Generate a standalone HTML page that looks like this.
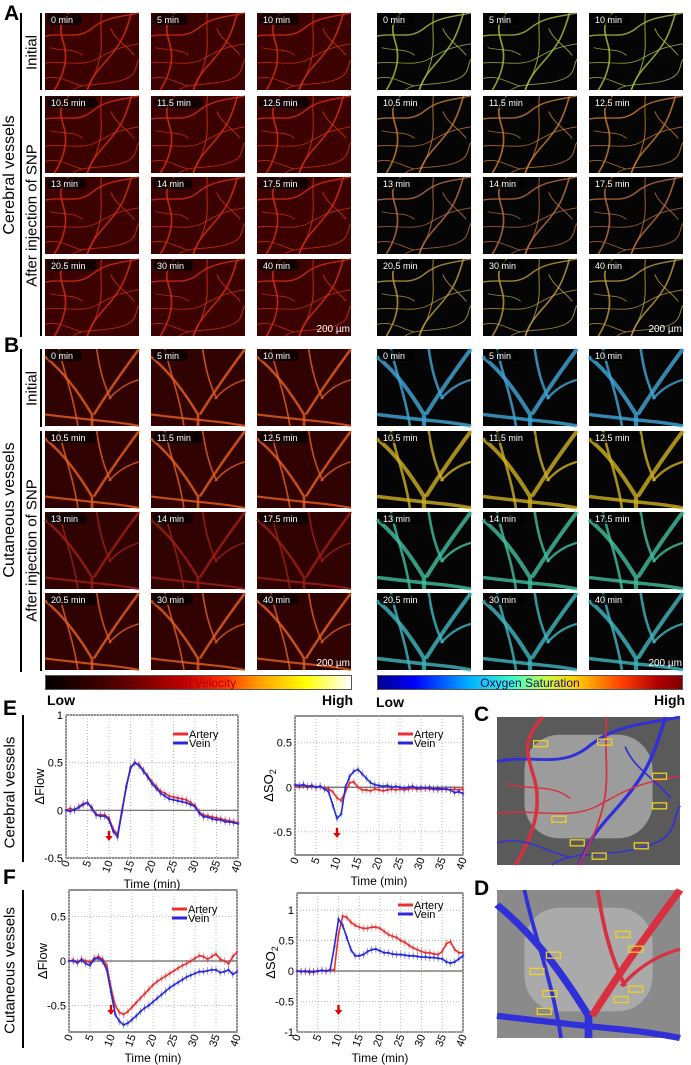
<!DOCTYPE html>
<html><head><meta charset="utf-8">
<style>
body{margin:0;background:#fff;}
#root{position:relative;width:691px;height:1065px;overflow:hidden;font-family:"Liberation Sans",sans-serif;background:#fff;}
.abs{position:absolute;}
.lbl{position:absolute;font-weight:bold;font-size:21px;color:#000;}
.vt{position:absolute;transform:rotate(-90deg);transform-origin:center center;white-space:nowrap;text-align:center;color:#000;}
.vline{position:absolute;width:1.5px;background:#000;}
</style></head>
<body>
<div id="root">
<div class="lbl" style="left:4px;top:2px">A</div>
<div class="lbl" style="left:4px;top:334px">B</div>
<div class="lbl" style="left:3px;top:697px">E</div>
<div class="lbl" style="left:3px;top:866px">F</div>
<div class="lbl" style="left:474px;top:703px">C</div>
<div class="lbl" style="left:474px;top:877px">D</div>

<div class="vline" style="left:20px;top:13px;height:324px"></div>
<div class="vline" style="left:40px;top:13px;height:77px"></div>
<div class="vline" style="left:40px;top:96px;height:240px"></div>
<div class="vt" style="left:-70px;top:166px;width:160px;font-size:16px">Cerebral vessels</div>
<div class="vt" style="left:-8px;top:44px;width:80px;font-size:15px">Initial</div>
<div class="vt" style="left:-52px;top:207px;width:168px;font-size:15px">After injection of SNP</div>

<div class="vline" style="left:20px;top:349px;height:323px"></div>
<div class="vline" style="left:40px;top:349px;height:78px"></div>
<div class="vline" style="left:40px;top:431px;height:240px"></div>
<div class="vt" style="left:-75px;top:501px;width:170px;font-size:16px">Cutaneous vessels</div>
<div class="vt" style="left:-8px;top:380px;width:80px;font-size:15px">Initial</div>
<div class="vt" style="left:-52px;top:542px;width:168px;font-size:15px">After injection of SNP</div>

<div class="abs" style="left:45px;top:675px;width:307px;height:15px;border:1px solid #555;box-sizing:border-box;background:linear-gradient(90deg,#000 0%,#5a0000 25%,#c00000 45%,#ff3000 58%,#ffa000 70%,#ffff00 85%,#ffffff 100%);font-size:12px;color:#b00000;text-align:center;line-height:14px">Blood Velocity</div>
<div class="abs" style="left:377px;top:675px;width:306px;height:15px;border:1px solid #555;box-sizing:border-box;background:linear-gradient(90deg,#00008f 0%,#0000ff 12%,#00b0ff 30%,#40ffc0 45%,#c0ff40 55%,#ffd000 65%,#ff4000 80%,#b00000 92%,#800000 100%);font-size:12px;color:#200080;text-align:center;line-height:14px">Oxygen Saturation</div>
<div class="abs" style="left:47px;top:692px;font-weight:bold;font-size:14px">Low</div>
<div class="abs" style="left:322px;top:692px;font-weight:bold;font-size:14px">High</div>
<div class="abs" style="left:376px;top:694px;font-weight:bold;font-size:14px">Low</div>
<div class="abs" style="left:654px;top:692px;font-weight:bold;font-size:14px">High</div>

<div class="vline" style="left:22px;top:715px;height:147px"></div>
<div class="vt" style="left:-70px;top:784px;width:160px;font-size:15px">Cerebral vessels</div>
<div class="vline" style="left:22px;top:890px;height:158px"></div>
<div class="vt" style="left:-75px;top:962px;width:170px;font-size:15px">Cutaneous vessels</div>

<svg id="maps" class="abs" style="left:0;top:0" width="691" height="1065"></svg>
<svg id="charts" class="abs" style="left:0;top:0" width="691" height="1065"></svg>
</div>
<script>
// ---------- chart data (minutes 0..40) ----------
const minutes = [0,1,2,3,4,5,6,7,8,9,10,11,12,13,14,15,16,17,18,19,20,21,22,23,24,25,26,27,28,29,30,31,32,33,34,35,36,37,38,39,40];
const xTicks = [0,5,10,15,20,25,30,35,40];
const eFlowArtery = [0,0.02,0,0.04,0.07,0.08,0.03,-0.04,-0.05,-0.05,-0.08,-0.2,-0.25,0,0.25,0.45,0.5,0.48,0.42,0.36,0.3,0.25,0.2,0.18,0.15,0.14,0.13,0.12,0.11,0.08,0.05,-0.02,-0.05,-0.06,-0.07,-0.08,-0.09,-0.1,-0.11,-0.12,-0.13];
const eFlowVein   = [0,-0.01,0.01,0.03,0.06,0.08,0.02,-0.05,-0.06,-0.06,-0.1,-0.22,-0.28,-0.02,0.24,0.44,0.5,0.47,0.41,0.35,0.28,0.23,0.18,0.15,0.12,0.11,0.1,0.09,0.08,0.06,0.04,-0.03,-0.07,-0.07,-0.09,-0.1,-0.1,-0.12,-0.12,-0.13,-0.14];
const eFlowTicks = [-0.5,0,0.5,1];
const eSo2Artery = [0.02,0.01,0.02,0,0.01,0,0.01,-0.01,-0.02,-0.05,-0.12,-0.15,-0.05,0.05,0.06,0,-0.03,-0.03,-0.04,-0.02,-0.03,-0.04,-0.03,-0.02,-0.03,-0.02,-0.03,-0.02,-0.01,-0.02,-0.02,-0.01,-0.02,-0.02,-0.03,-0.02,-0.02,-0.03,-0.02,-0.03,-0.02];
const eSo2Vein   = [0.03,0.02,0.03,0.01,0.02,0,0.01,-0.02,-0.05,-0.2,-0.35,-0.3,0,0.12,0.18,0.2,0.15,0.1,0.05,0.03,0.02,0.01,0.02,0,0.01,0,-0.01,0,0.01,-0.01,0,-0.01,0,-0.02,-0.01,-0.02,-0.02,-0.03,-0.06,-0.05,-0.07];
const eSo2Ticks = [-0.5,0,0.5];
const fFlowArtery = [0,0.01,-0.01,0.02,0,-0.02,0.03,0.05,0.02,-0.05,-0.3,-0.5,-0.58,-0.6,-0.57,-0.52,-0.47,-0.42,-0.37,-0.32,-0.27,-0.23,-0.2,-0.17,-0.14,-0.11,-0.08,-0.05,-0.03,0,0.03,0.06,0.05,0.02,0.05,0.08,0.02,0,-0.03,0.05,0.1];
const fFlowVein   = [0,0,-0.02,0.01,-0.03,-0.05,0.02,0.03,0,-0.1,-0.35,-0.6,-0.68,-0.72,-0.7,-0.66,-0.62,-0.57,-0.53,-0.5,-0.46,-0.42,-0.38,-0.34,-0.3,-0.27,-0.24,-0.21,-0.18,-0.16,-0.14,-0.12,-0.12,-0.11,-0.1,-0.1,-0.13,-0.12,-0.1,-0.15,-0.12];
const fFlowTicks = [-0.5,0,0.5];
const fSo2Artery = [0,0,-0.01,0,-0.02,0,0.01,0,0.01,0.02,0.6,0.9,0.88,0.8,0.75,0.72,0.7,0.7,0.72,0.72,0.7,0.65,0.6,0.57,0.55,0.5,0.47,0.42,0.38,0.35,0.32,0.3,0.3,0.28,0.27,0.32,0.45,0.48,0.35,0.3,0.3];
const fSo2Vein   = [0,-0.01,0,-0.02,-0.01,0,0.01,0,0.02,0.4,0.85,0.75,0.55,0.35,0.25,0.25,0.27,0.32,0.35,0.36,0.33,0.3,0.3,0.28,0.27,0.27,0.26,0.25,0.25,0.24,0.23,0.23,0.22,0.22,0.21,0.2,0.15,0.13,0.15,0.2,0.25];
const fSo2Ticks = [-1,-0.5,0,0.5,1];

const NS='http://www.w3.org/2000/svg';
function mk(parent,tag,attrs){const e=document.createElementNS(NS,tag);for(const k in attrs)e.setAttribute(k,attrs[k]);parent.appendChild(e);return e;}

function drawChart(svg,name,box,ymin,ymax,yticks,ylabel,artery,vein,legY){
  const g=mk(svg,'g',{});
  
  
  const xs=v=>box.x+(v-0)/(40-0)*box.w;
  const ys=v=>box.y+box.h-(v-ymin)/(ymax-ymin)*box.h;
  mk(g,'rect',{x:box.x,y:box.y,width:box.w,height:box.h,fill:'#fff',stroke:'#222','stroke-width':1});
  xTicks.forEach(t=>{
    const gl=mk(g,'line',{x1:xs(t),x2:xs(t),y1:box.y,y2:box.y+box.h,stroke:'#aaa','stroke-dasharray':'1,2','stroke-width':0.8});
    
    
    const tx=mk(g,'text',{x:0,y:0,'font-size':11,'text-anchor':'end',transform:`translate(${xs(t)+4},${box.y+box.h+4}) rotate(-70)`});
    tx.textContent=t;
    
    
  });
  yticks.forEach(t=>{
    mk(g,'line',{x1:box.x,x2:box.x+box.w,y1:ys(t),y2:ys(t),stroke:'#aaa','stroke-dasharray':'1,2','stroke-width':0.8});
    const tx=mk(g,'text',{x:box.x-3,y:ys(t)+4,'font-size':11,'text-anchor':'end'});
    tx.textContent=t;
    
    
  });
  mk(g,'line',{x1:box.x,x2:box.x+box.w,y1:ys(0),y2:ys(0),stroke:'#666','stroke-width':1.2});
  const series=[[artery,'#e83030','artery-series'],[vein,'#2828d8','vein-series']];
  series.forEach(([arr,col,nm])=>{
    const sg=mk(g,'g',{});
    
    
    arr.forEach((v,i)=>{
      const x=xs(minutes[i]),y=ys(v),e=0.04*(ymax-ymin)/1.5;
      mk(sg,'line',{x1:x,x2:x,y1:ys(v+e),y2:ys(v-e),stroke:col,'stroke-opacity':0.55,'stroke-width':0.8});
      mk(sg,'rect',{x:x-1.2,y:y-1.2,width:2.4,height:2.4,fill:col,'fill-opacity':0.6});
    });
    const p=mk(sg,'polyline',{points:arr.map((v,i)=>xs(minutes[i])+','+ys(v)).join(' '),fill:'none',stroke:col,'stroke-width':1.6});
    
    
  });
  const ay=box.y+box.h-20;
  const ar=mk(g,'path',{d:`M${xs(10)-1.2},${ay-7} h2.4 v5 h2.5 l-3.7,5 l-3.7,-5 h2.5 z`,fill:'#e00000'});
  
  
  const lx=box.x+box.w-65;
  [['Artery','#e83030',0],['Vein','#2828d8',9]].forEach(([t,c,dy])=>{
    mk(g,'line',{x1:lx,x2:lx+15,y1:legY+dy,y2:legY+dy,stroke:c,'stroke-width':3});
    const tx=mk(g,'text',{x:lx+16,y:legY+dy+4,'font-size':11});
    tx.textContent=t;
    
    
  });
  const xl=mk(g,'text',{x:box.x+box.w/2,y:box.y+box.h+30,'font-size':12,'text-anchor':'middle'});
  xl.textContent='Time (min)';
  
  
  const yl=mk(g,'text',{x:0,y:0,'font-size':13,'text-anchor':'middle',transform:`translate(${box.x-22},${box.y+box.h/2}) rotate(-90)`});
  yl.innerHTML=ylabel;
  
  
}
const cs=document.getElementById('charts');
drawChart(cs,'chart-e-flow',{x:66,y:715,w:172,h:143},-0.5,1,eFlowTicks,'ΔFlow',eFlowArtery,eFlowVein,734);
drawChart(cs,'chart-e-so2',{x:295,y:716,w:168,h:139},-0.76,0.8,eSo2Ticks,'ΔSO<tspan font-size="9" dy="3">2</tspan>',eSo2Artery,eSo2Vein,734);
drawChart(cs,'chart-f-flow',{x:69,y:890,w:168,h:142},-0.8,0.8,fFlowTicks,'ΔFlow',fFlowArtery,fFlowVein,909);
drawChart(cs,'chart-f-so2',{x:297,y:893,w:166,h:139},-1,1.28,fSo2Ticks,'ΔSO<tspan font-size="9" dy="3">2</tspan>',fSo2Artery,fSo2Vein,905);

// ---------- thumbnails ----------
const ms=document.getElementById('maps');
const cereb=['M0,30 C20,25 35,35 50,20 S80,5 100,0','M10,100 C20,80 25,60 20,40 S15,15 25,0','M45,100 C50,80 60,70 70,55 S85,30 92,0','M0,65 C20,62 40,70 55,60 S75,45 100,40','M30,100 C40,90 60,95 80,88 S95,70 100,60','M60,0 C58,20 62,40 58,60 S50,85 45,100','M0,85 C15,80 25,90 40,95','M5,45 C20,50 30,45 40,55','M70,20 C75,35 85,40 95,55'];
const cutan=['M0,10 C20,30 35,55 50,85 L50,100','M100,0 C85,25 70,50 52,85','M0,85 C20,88 35,90 50,92 S80,95 100,100','M55,0 C58,25 62,45 70,65','M15,0 C20,30 30,60 35,100','M100,40 C85,45 75,55 68,65'];
const colsL=[45,151,257], colsR=[377,483,589];
const rowsA=[13,96,177,259], rowsB=[349,431,512,593];
const times=[['0 min','5 min','10 min'],['10.5 min','11.5 min','12.5 min'],['13 min','14 min','17.5 min'],['20.5 min','30 min','40 min']];
const oxyA=['#b0c040','#d08030','#c07040','#c0a040'];
const oxyB=['#40a8d8','#d0b020','#40c0a0','#40b8c0'];
function thumb(x,y,w,h,bg,paths,col,wd,label,name){
  const g=mk(ms,'g',{});
  
  
  mk(g,'rect',{x,y,width:w,height:h,fill:bg});
  const inner=mk(g,'g',{transform:`translate(${x},${y}) scale(${w/100},${h/100})`});
  paths.forEach((d,i)=>mk(inner,'path',{d,fill:'none',stroke:col,'stroke-width':wd*(i<3?1.3:0.8),'stroke-opacity':0.8}));
  mk(g,'rect',{x:x+2,y:y+1,width:label.length*5+10,height:11,rx:5,fill:'#000','fill-opacity':0.7});
  const t=mk(g,'text',{x:x+6,y:y+10,'font-size':9,fill:'#fff'});
  t.textContent=label;
}
rowsA.forEach((ry,ri)=>colsL.forEach((cx,ci)=>{
  thumb(cx,ry,94,77,'#3c0202',cereb,'#d83010',1.4,times[ri][ci],'cerebral-velocity-image');
  thumb(colsR[ci],ry,94,77,'#050505',cereb,oxyA[ri],1.4,times[ri][ci],'cerebral-oxygen-image');
}));
rowsB.forEach((ry,ri)=>colsL.forEach((cx,ci)=>{
  thumb(cx,ry,94,77,'#300202',cutan,ri==2?'#a02010':'#e86020',2.2,times[ri][ci],'cutaneous-velocity-image');
  thumb(colsR[ci],ry,94,77,'#050505',cutan,oxyB[ri],3.5,times[ri][ci],'cutaneous-oxygen-image');
}));
[[257,332],[589,332],[257,666],[589,666]].forEach(([x,y])=>{
  const t=mk(ms,'text',{x:x+93,y:y,'font-size':10,fill:'#fff','text-anchor':'end'});
  t.textContent='200 µm';
  
  
});
function map(x,y,w,h,paths,name,boxes,wd,bg){
  const g=mk(ms,'g',{});
  
  
  mk(g,'rect',{x,y,width:w,height:h,fill:bg});
  mk(g,'rect',{x:x+w*0.15,y:y+h*0.12,width:w*0.7,height:h*0.7,rx:35,fill:'#b8b8b8','fill-opacity':0.7});
  const inner=mk(g,'g',{transform:`translate(${x},${y}) scale(${w/100},${h/100})`});
  paths.forEach((d,i)=>mk(inner,'path',{d,fill:'none',stroke:i%2?'#d83040':'#3030d8','stroke-width':wd*(i<3?1.2:0.6)}));
  boxes.forEach(([bx,by])=>mk(g,'rect',{x:x+bx*w/100,y:y+by*h/100,width:14,height:6,fill:'none',stroke:'#f0d020','stroke-width':1.3}));
}
map(497,717,183,148,cereb,'cerebral-vessel-map',[[20,16],[55,15],[85,38],[85,58],[30,67],[40,83],[52,92],[75,85]],1.6,'#5a5a5a');
map(497,890,183,148,cutan,'cutaneous-vessel-map',[[27,42],[18,53],[25,68],[65,28],[72,38],[64,72],[72,65],[22,80]],3.5,'#8a8a8a');
</script>
</body></html>
